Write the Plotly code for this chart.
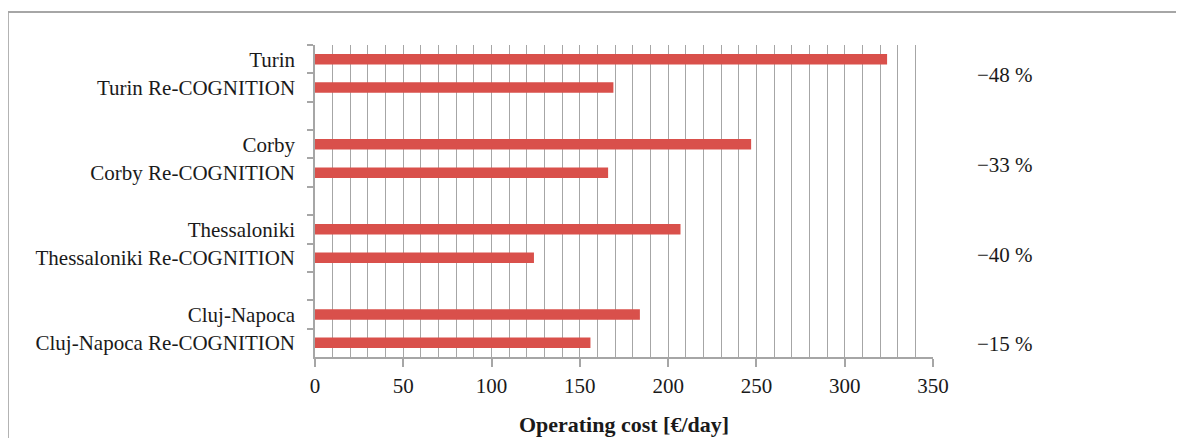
import plotly.graph_objects as go

cities = ["Turin", "Corby", "Thessaloniki", "Cluj-Napoca"]
baseline_cost = [324, 247, 207, 184]
recognition_cost = [169, 166, 124, 156]
reduction_labels = ["\u221248 %", "\u221233 %", "\u221240 %", "\u221215 %"]
x_ticks = [0, 50, 100, 150, 200, 250, 300, 350]

categories = []
values = []
for i, (c, b, r) in enumerate(zip(cities, baseline_cost, recognition_cost)):
    categories += [c, c + " Re-COGNITION"]
    values += [b, r]
    if i < len(cities) - 1:
        categories.append(" " * (i + 1))
        values.append(None)

FONT = "Liberation Serif"
GRAY = "#a6a6a6"
BAR = "#D9504B"
TXT = "#1a1a1a"

fig = go.Figure()
fig.add_trace(go.Bar(
    x=values, y=categories, orientation="h",
    marker=dict(color=BAR, line=dict(width=0)),
    width=0.37, showlegend=False,
))

fig.update_layout(
    width=1176, height=430,
    margin=dict(l=307, r=251, t=37, b=81),
    paper_bgcolor="white", plot_bgcolor="white",
    font=dict(family=FONT, size=21, color=TXT),
)

fig.update_xaxes(
    range=[0, 350], tickvals=x_ticks, showgrid=True, gridcolor=GRAY, gridwidth=1,
    minor=dict(dtick=10, showgrid=True, gridcolor=GRAY, gridwidth=1),
    showline=True, linecolor=GRAY, linewidth=1.5,
    ticks="outside", ticklen=8, tickcolor=GRAY, tickwidth=1.5,
    ticklabelstandoff=1,
    tickfont=dict(family=FONT, size=21, color=TXT),
    zeroline=False, automargin=False,
    title=dict(text="<b>Operating cost [\u20ac/day]</b>", standoff=20,
               font=dict(family=FONT, size=22, color=TXT)),
)

fig.update_yaxes(
    type="category", categoryorder="array", categoryarray=categories,
    autorange="reversed", showgrid=False,
    showline=True, linecolor=GRAY, linewidth=1.5,
    ticks="outside", tickson="boundaries", ticklen=6, tickcolor=GRAY, tickwidth=1.5,
    ticklabelstandoff=14, automargin=False,
    tickfont=dict(family=FONT, size=21, color=TXT),
)

ann_y = [0.904, 0.615, 0.327, 0.042]
for lab, yy in zip(reduction_labels, ann_y):
    fig.add_annotation(text=lab, xref="paper", yref="paper", x=1.165, y=yy,
                       xanchor="right", yanchor="middle", showarrow=False,
                       font=dict(family=FONT, size=21, color=TXT))

fig.add_shape(type="rect", xref="paper", yref="paper",
              x0=-0.497, x1=1.42, y0=-0.3, y1=1.106,
              line=dict(color=GRAY, width=2), fillcolor="rgba(0,0,0,0)", layer="below")

fig.write_html("out.html")
